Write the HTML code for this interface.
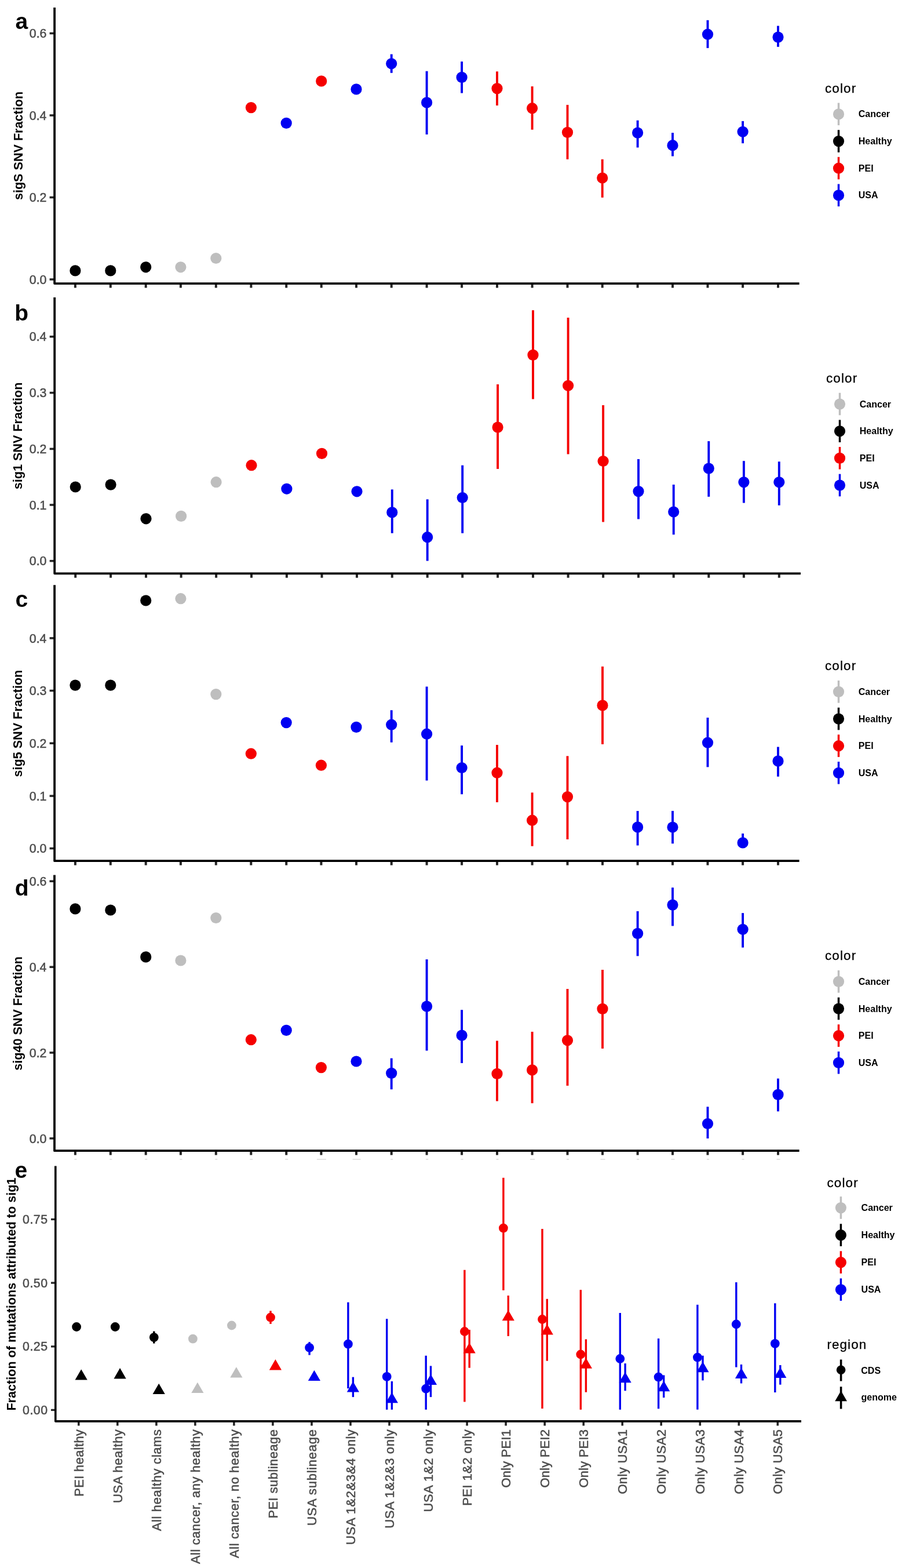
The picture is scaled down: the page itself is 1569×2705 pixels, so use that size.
<!DOCTYPE html>
<html><head><meta charset="utf-8"><title>Figure</title>
<style>
html,body{margin:0;padding:0;background:#fff;}
svg{display:block;}
svg text{font-family:'Liberation Sans', Arial, Helvetica, sans-serif;}
</style></head>
<body>
<svg width="1569" height="2705" viewBox="0 0 1569 2705">
<rect x="0" y="0" width="1569" height="2705" fill="#fff"/>
<g>
<text x="26.6" y="50.4" font-size="39" font-weight="bold" fill="#000">a</text>
<text transform="translate(38.5,251.5) rotate(-90)" x="0" y="0" text-anchor="middle" font-size="21.6" font-weight="bold" fill="#000">sigS SNV Fraction</text>
<line x1="85.6" y1="482.0" x2="94.1" y2="482.0" stroke="#262626" stroke-width="3.6"/>
<text x="80.4" y="489.6" text-anchor="end" font-size="21.3" stroke="#4D4D4D" stroke-width="0.55" fill="#4D4D4D">0.0</text>
<line x1="85.6" y1="340.5" x2="94.1" y2="340.5" stroke="#262626" stroke-width="3.6"/>
<text x="80.4" y="348.1" text-anchor="end" font-size="21.3" stroke="#4D4D4D" stroke-width="0.55" fill="#4D4D4D">0.2</text>
<line x1="85.6" y1="199.0" x2="94.1" y2="199.0" stroke="#262626" stroke-width="3.6"/>
<text x="80.4" y="206.6" text-anchor="end" font-size="21.3" stroke="#4D4D4D" stroke-width="0.55" fill="#4D4D4D">0.4</text>
<line x1="85.6" y1="57.5" x2="94.1" y2="57.5" stroke="#262626" stroke-width="3.6"/>
<text x="80.4" y="65.1" text-anchor="end" font-size="21.3" stroke="#4D4D4D" stroke-width="0.55" fill="#4D4D4D">0.6</text>
<line x1="129.9" y1="489.1" x2="129.9" y2="496.5" stroke="#262626" stroke-width="4"/>
<line x1="190.8" y1="489.1" x2="190.8" y2="496.5" stroke="#262626" stroke-width="4"/>
<line x1="251.7" y1="489.1" x2="251.7" y2="496.5" stroke="#262626" stroke-width="4"/>
<line x1="311.9" y1="489.1" x2="311.9" y2="496.5" stroke="#262626" stroke-width="4"/>
<line x1="372.8" y1="489.1" x2="372.8" y2="496.5" stroke="#262626" stroke-width="4"/>
<line x1="433.4" y1="489.1" x2="433.4" y2="496.5" stroke="#262626" stroke-width="4"/>
<line x1="494.2" y1="489.1" x2="494.2" y2="496.5" stroke="#262626" stroke-width="4"/>
<line x1="554.7" y1="489.1" x2="554.7" y2="496.5" stroke="#262626" stroke-width="4"/>
<line x1="615.0" y1="489.1" x2="615.0" y2="496.5" stroke="#262626" stroke-width="4"/>
<line x1="675.7" y1="489.1" x2="675.7" y2="496.5" stroke="#262626" stroke-width="4"/>
<line x1="736.6" y1="489.1" x2="736.6" y2="496.5" stroke="#262626" stroke-width="4"/>
<line x1="797.1" y1="489.1" x2="797.1" y2="496.5" stroke="#262626" stroke-width="4"/>
<line x1="858.0" y1="489.1" x2="858.0" y2="496.5" stroke="#262626" stroke-width="4"/>
<line x1="918.6" y1="489.1" x2="918.6" y2="496.5" stroke="#262626" stroke-width="4"/>
<line x1="979.5" y1="489.1" x2="979.5" y2="496.5" stroke="#262626" stroke-width="4"/>
<line x1="1039.7" y1="489.1" x2="1039.7" y2="496.5" stroke="#262626" stroke-width="4"/>
<line x1="1100.6" y1="489.1" x2="1100.6" y2="496.5" stroke="#262626" stroke-width="4"/>
<line x1="1161.0" y1="489.1" x2="1161.0" y2="496.5" stroke="#262626" stroke-width="4"/>
<line x1="1221.5" y1="489.1" x2="1221.5" y2="496.5" stroke="#262626" stroke-width="4"/>
<line x1="1282.1" y1="489.1" x2="1282.1" y2="496.5" stroke="#262626" stroke-width="4"/>
<line x1="1343.0" y1="489.1" x2="1343.0" y2="496.5" stroke="#262626" stroke-width="4"/>
<path d="M94.1,13.0 L94.1,489.1 L1379.6,489.1" fill="none" stroke="#000" stroke-width="3.8" stroke-linejoin="round"/>
<circle cx="129.9" cy="466.9" r="9.6" fill="#000000"/>
<circle cx="190.8" cy="466.9" r="9.6" fill="#000000"/>
<circle cx="251.7" cy="460.8" r="9.6" fill="#000000"/>
<circle cx="311.9" cy="460.8" r="9.6" fill="#BEBEBE"/>
<circle cx="372.8" cy="445.5" r="9.6" fill="#BEBEBE"/>
<circle cx="433.4" cy="185.6" r="9.6" fill="#F50000"/>
<circle cx="494.2" cy="212.4" r="9.6" fill="#0000F2"/>
<circle cx="554.7" cy="139.9" r="9.6" fill="#F50000"/>
<circle cx="615.0" cy="153.9" r="9.6" fill="#0000F2"/>
<line x1="675.7" y1="93.5" x2="675.7" y2="125.8" stroke="#0000F2" stroke-width="3.9"/>
<circle cx="675.7" cy="109.8" r="9.6" fill="#0000F2"/>
<line x1="736.6" y1="122.7" x2="736.6" y2="232.0" stroke="#0000F2" stroke-width="3.9"/>
<circle cx="736.6" cy="176.9" r="9.6" fill="#0000F2"/>
<line x1="797.1" y1="106.2" x2="797.1" y2="160.6" stroke="#0000F2" stroke-width="3.9"/>
<circle cx="797.1" cy="133.4" r="9.6" fill="#0000F2"/>
<line x1="858.0" y1="123.3" x2="858.0" y2="182.0" stroke="#F50000" stroke-width="3.9"/>
<circle cx="858.0" cy="152.6" r="9.6" fill="#F50000"/>
<line x1="918.6" y1="149.0" x2="918.6" y2="223.7" stroke="#F50000" stroke-width="3.9"/>
<circle cx="918.6" cy="186.7" r="9.6" fill="#F50000"/>
<line x1="979.5" y1="180.9" x2="979.5" y2="274.8" stroke="#F50000" stroke-width="3.9"/>
<circle cx="979.5" cy="228.4" r="9.6" fill="#F50000"/>
<line x1="1039.7" y1="274.8" x2="1039.7" y2="340.8" stroke="#F50000" stroke-width="3.9"/>
<circle cx="1039.7" cy="307.0" r="9.6" fill="#F50000"/>
<line x1="1100.6" y1="207.7" x2="1100.6" y2="254.5" stroke="#0000F2" stroke-width="3.9"/>
<circle cx="1100.6" cy="229.1" r="9.6" fill="#0000F2"/>
<line x1="1161.0" y1="229.1" x2="1161.0" y2="269.5" stroke="#0000F2" stroke-width="3.9"/>
<circle cx="1161.0" cy="250.7" r="9.6" fill="#0000F2"/>
<line x1="1221.5" y1="34.8" x2="1221.5" y2="82.9" stroke="#0000F2" stroke-width="3.9"/>
<circle cx="1221.5" cy="59.2" r="9.6" fill="#0000F2"/>
<line x1="1282.1" y1="208.9" x2="1282.1" y2="247.2" stroke="#0000F2" stroke-width="3.9"/>
<circle cx="1282.1" cy="227.3" r="9.6" fill="#0000F2"/>
<line x1="1343.0" y1="44.6" x2="1343.0" y2="80.8" stroke="#0000F2" stroke-width="3.9"/>
<circle cx="1343.0" cy="64.1" r="9.6" fill="#0000F2"/>
<text x="1423.9" y="159.6" font-size="22.4" textLength="53.2" stroke="#000" stroke-width="0.3" fill="#000">color</text>
<line x1="1447.5" y1="177.5" x2="1447.5" y2="216.1" stroke="#BEBEBE" stroke-width="3.5"/>
<circle cx="1447.5" cy="196.9" r="9.6" fill="#BEBEBE"/>
<text x="1481.8" y="202.3" font-size="16" font-weight="bold" fill="#000">Cancer</text>
<line x1="1447.5" y1="224.2" x2="1447.5" y2="262.8" stroke="#000000" stroke-width="3.5"/>
<circle cx="1447.5" cy="243.6" r="9.6" fill="#000000"/>
<text x="1481.8" y="249.0" font-size="16" font-weight="bold" fill="#000">Healthy</text>
<line x1="1447.5" y1="270.8" x2="1447.5" y2="309.4" stroke="#F50000" stroke-width="3.5"/>
<circle cx="1447.5" cy="290.2" r="9.6" fill="#F50000"/>
<text x="1481.8" y="295.6" font-size="16" font-weight="bold" fill="#000">PEI</text>
<line x1="1447.5" y1="317.5" x2="1447.5" y2="356.1" stroke="#0000F2" stroke-width="3.5"/>
<circle cx="1447.5" cy="336.9" r="9.6" fill="#0000F2"/>
<text x="1481.8" y="342.3" font-size="16" font-weight="bold" fill="#000">USA</text>
</g>
<g>
<text x="25.3" y="552.9" font-size="39" font-weight="bold" fill="#000">b</text>
<text transform="translate(38.4,751.9) rotate(-90)" x="0" y="0" text-anchor="middle" font-size="21.6" font-weight="bold" fill="#000">sig1 SNV Fraction</text>
<line x1="85.7" y1="967.7" x2="94.2" y2="967.7" stroke="#262626" stroke-width="3.6"/>
<text x="80.4" y="975.3" text-anchor="end" font-size="21.3" stroke="#4D4D4D" stroke-width="0.55" fill="#4D4D4D">0.0</text>
<line x1="85.7" y1="871.0" x2="94.2" y2="871.0" stroke="#262626" stroke-width="3.6"/>
<text x="80.4" y="878.6" text-anchor="end" font-size="21.3" stroke="#4D4D4D" stroke-width="0.55" fill="#4D4D4D">0.1</text>
<line x1="85.7" y1="774.4" x2="94.2" y2="774.4" stroke="#262626" stroke-width="3.6"/>
<text x="80.4" y="782.0" text-anchor="end" font-size="21.3" stroke="#4D4D4D" stroke-width="0.55" fill="#4D4D4D">0.2</text>
<line x1="85.7" y1="677.6" x2="94.2" y2="677.6" stroke="#262626" stroke-width="3.6"/>
<text x="80.4" y="685.2" text-anchor="end" font-size="21.3" stroke="#4D4D4D" stroke-width="0.55" fill="#4D4D4D">0.3</text>
<line x1="85.7" y1="580.8" x2="94.2" y2="580.8" stroke="#262626" stroke-width="3.6"/>
<text x="80.4" y="588.4" text-anchor="end" font-size="21.3" stroke="#4D4D4D" stroke-width="0.55" fill="#4D4D4D">0.4</text>
<line x1="130.2" y1="989.3" x2="130.2" y2="996.7" stroke="#262626" stroke-width="4"/>
<line x1="191.1" y1="989.3" x2="191.1" y2="996.7" stroke="#262626" stroke-width="4"/>
<line x1="252.0" y1="989.3" x2="252.0" y2="996.7" stroke="#262626" stroke-width="4"/>
<line x1="312.6" y1="989.3" x2="312.6" y2="996.7" stroke="#262626" stroke-width="4"/>
<line x1="373.1" y1="989.3" x2="373.1" y2="996.7" stroke="#262626" stroke-width="4"/>
<line x1="434.0" y1="989.3" x2="434.0" y2="996.7" stroke="#262626" stroke-width="4"/>
<line x1="494.9" y1="989.3" x2="494.9" y2="996.7" stroke="#262626" stroke-width="4"/>
<line x1="555.5" y1="989.3" x2="555.5" y2="996.7" stroke="#262626" stroke-width="4"/>
<line x1="616.0" y1="989.3" x2="616.0" y2="996.7" stroke="#262626" stroke-width="4"/>
<line x1="676.8" y1="989.3" x2="676.8" y2="996.7" stroke="#262626" stroke-width="4"/>
<line x1="737.7" y1="989.3" x2="737.7" y2="996.7" stroke="#262626" stroke-width="4"/>
<line x1="798.2" y1="989.3" x2="798.2" y2="996.7" stroke="#262626" stroke-width="4"/>
<line x1="859.1" y1="989.3" x2="859.1" y2="996.7" stroke="#262626" stroke-width="4"/>
<line x1="920.0" y1="989.3" x2="920.0" y2="996.7" stroke="#262626" stroke-width="4"/>
<line x1="980.6" y1="989.3" x2="980.6" y2="996.7" stroke="#262626" stroke-width="4"/>
<line x1="1041.1" y1="989.3" x2="1041.1" y2="996.7" stroke="#262626" stroke-width="4"/>
<line x1="1102.0" y1="989.3" x2="1102.0" y2="996.7" stroke="#262626" stroke-width="4"/>
<line x1="1162.7" y1="989.3" x2="1162.7" y2="996.7" stroke="#262626" stroke-width="4"/>
<line x1="1223.3" y1="989.3" x2="1223.3" y2="996.7" stroke="#262626" stroke-width="4"/>
<line x1="1283.9" y1="989.3" x2="1283.9" y2="996.7" stroke="#262626" stroke-width="4"/>
<line x1="1344.8" y1="989.3" x2="1344.8" y2="996.7" stroke="#262626" stroke-width="4"/>
<path d="M94.2,512.9 L94.2,989.3 L1382.0,989.3" fill="none" stroke="#000" stroke-width="3.8" stroke-linejoin="round"/>
<circle cx="130.2" cy="840.0" r="9.6" fill="#000000"/>
<circle cx="191.1" cy="836.1" r="9.6" fill="#000000"/>
<circle cx="252.0" cy="894.8" r="9.6" fill="#000000"/>
<circle cx="312.6" cy="890.4" r="9.6" fill="#BEBEBE"/>
<circle cx="373.1" cy="831.7" r="9.6" fill="#BEBEBE"/>
<circle cx="434.0" cy="802.7" r="9.6" fill="#F50000"/>
<circle cx="494.9" cy="843.3" r="9.6" fill="#0000F2"/>
<circle cx="555.5" cy="782.4" r="9.6" fill="#F50000"/>
<circle cx="616.0" cy="847.8" r="9.6" fill="#0000F2"/>
<line x1="676.8" y1="844.4" x2="676.8" y2="919.8" stroke="#0000F2" stroke-width="3.9"/>
<circle cx="676.8" cy="883.9" r="9.6" fill="#0000F2"/>
<line x1="737.7" y1="861.4" x2="737.7" y2="967.6" stroke="#0000F2" stroke-width="3.9"/>
<circle cx="737.7" cy="926.7" r="9.6" fill="#0000F2"/>
<line x1="798.2" y1="802.7" x2="798.2" y2="919.8" stroke="#0000F2" stroke-width="3.9"/>
<circle cx="798.2" cy="858.5" r="9.6" fill="#0000F2"/>
<line x1="859.1" y1="663.1" x2="859.1" y2="808.9" stroke="#F50000" stroke-width="3.9"/>
<circle cx="859.1" cy="737.1" r="9.6" fill="#F50000"/>
<line x1="920.0" y1="535.2" x2="920.0" y2="688.5" stroke="#F50000" stroke-width="3.9"/>
<circle cx="920.0" cy="612.4" r="9.6" fill="#F50000"/>
<line x1="980.6" y1="547.9" x2="980.6" y2="783.5" stroke="#F50000" stroke-width="3.9"/>
<circle cx="980.6" cy="665.3" r="9.6" fill="#F50000"/>
<line x1="1041.1" y1="699.0" x2="1041.1" y2="900.6" stroke="#F50000" stroke-width="3.9"/>
<circle cx="1041.1" cy="795.5" r="9.6" fill="#F50000"/>
<line x1="1102.0" y1="792.0" x2="1102.0" y2="895.5" stroke="#0000F2" stroke-width="3.9"/>
<circle cx="1102.0" cy="847.6" r="9.6" fill="#0000F2"/>
<line x1="1162.7" y1="836.0" x2="1162.7" y2="922.3" stroke="#0000F2" stroke-width="3.9"/>
<circle cx="1162.7" cy="883.0" r="9.6" fill="#0000F2"/>
<line x1="1223.3" y1="761.1" x2="1223.3" y2="856.9" stroke="#0000F2" stroke-width="3.9"/>
<circle cx="1223.3" cy="808.1" r="9.6" fill="#0000F2"/>
<line x1="1283.9" y1="795.2" x2="1283.9" y2="867.6" stroke="#0000F2" stroke-width="3.9"/>
<circle cx="1283.9" cy="831.8" r="9.6" fill="#0000F2"/>
<line x1="1344.8" y1="796.3" x2="1344.8" y2="871.8" stroke="#0000F2" stroke-width="3.9"/>
<circle cx="1344.8" cy="831.8" r="9.6" fill="#0000F2"/>
<text x="1425.9" y="659.8" font-size="22.4" textLength="53.2" stroke="#000" stroke-width="0.3" fill="#000">color</text>
<line x1="1449.5" y1="677.7" x2="1449.5" y2="716.3" stroke="#BEBEBE" stroke-width="3.5"/>
<circle cx="1449.5" cy="697.1" r="9.6" fill="#BEBEBE"/>
<text x="1483.8" y="702.5" font-size="16" font-weight="bold" fill="#000">Cancer</text>
<line x1="1449.5" y1="724.4" x2="1449.5" y2="763.0" stroke="#000000" stroke-width="3.5"/>
<circle cx="1449.5" cy="743.8" r="9.6" fill="#000000"/>
<text x="1483.8" y="749.2" font-size="16" font-weight="bold" fill="#000">Healthy</text>
<line x1="1449.5" y1="771.0" x2="1449.5" y2="809.6" stroke="#F50000" stroke-width="3.5"/>
<circle cx="1449.5" cy="790.4" r="9.6" fill="#F50000"/>
<text x="1483.8" y="795.8" font-size="16" font-weight="bold" fill="#000">PEI</text>
<line x1="1449.5" y1="817.7" x2="1449.5" y2="856.3" stroke="#0000F2" stroke-width="3.5"/>
<circle cx="1449.5" cy="837.1" r="9.6" fill="#0000F2"/>
<text x="1483.8" y="842.5" font-size="16" font-weight="bold" fill="#000">USA</text>
</g>
<g>
<text x="26.4" y="1046.9" font-size="39" font-weight="bold" fill="#000">c</text>
<text transform="translate(38.4,1248.1) rotate(-90)" x="0" y="0" text-anchor="middle" font-size="21.6" font-weight="bold" fill="#000">sig5 SNV Fraction</text>
<line x1="85.6" y1="1463.6" x2="94.1" y2="1463.6" stroke="#262626" stroke-width="3.6"/>
<text x="80.4" y="1471.2" text-anchor="end" font-size="21.3" stroke="#4D4D4D" stroke-width="0.55" fill="#4D4D4D">0.0</text>
<line x1="85.6" y1="1373.1" x2="94.1" y2="1373.1" stroke="#262626" stroke-width="3.6"/>
<text x="80.4" y="1380.7" text-anchor="end" font-size="21.3" stroke="#4D4D4D" stroke-width="0.55" fill="#4D4D4D">0.1</text>
<line x1="85.6" y1="1282.2" x2="94.1" y2="1282.2" stroke="#262626" stroke-width="3.6"/>
<text x="80.4" y="1289.8" text-anchor="end" font-size="21.3" stroke="#4D4D4D" stroke-width="0.55" fill="#4D4D4D">0.2</text>
<line x1="85.6" y1="1191.5" x2="94.1" y2="1191.5" stroke="#262626" stroke-width="3.6"/>
<text x="80.4" y="1199.1" text-anchor="end" font-size="21.3" stroke="#4D4D4D" stroke-width="0.55" fill="#4D4D4D">0.3</text>
<line x1="85.6" y1="1100.9" x2="94.1" y2="1100.9" stroke="#262626" stroke-width="3.6"/>
<text x="80.4" y="1108.5" text-anchor="end" font-size="21.3" stroke="#4D4D4D" stroke-width="0.55" fill="#4D4D4D">0.4</text>
<line x1="129.9" y1="1485.2" x2="129.9" y2="1492.6" stroke="#262626" stroke-width="4"/>
<line x1="190.8" y1="1485.2" x2="190.8" y2="1492.6" stroke="#262626" stroke-width="4"/>
<line x1="251.7" y1="1485.2" x2="251.7" y2="1492.6" stroke="#262626" stroke-width="4"/>
<line x1="311.9" y1="1485.2" x2="311.9" y2="1492.6" stroke="#262626" stroke-width="4"/>
<line x1="372.8" y1="1485.2" x2="372.8" y2="1492.6" stroke="#262626" stroke-width="4"/>
<line x1="433.3" y1="1485.2" x2="433.3" y2="1492.6" stroke="#262626" stroke-width="4"/>
<line x1="494.2" y1="1485.2" x2="494.2" y2="1492.6" stroke="#262626" stroke-width="4"/>
<line x1="554.4" y1="1485.2" x2="554.4" y2="1492.6" stroke="#262626" stroke-width="4"/>
<line x1="615.0" y1="1485.2" x2="615.0" y2="1492.6" stroke="#262626" stroke-width="4"/>
<line x1="675.7" y1="1485.2" x2="675.7" y2="1492.6" stroke="#262626" stroke-width="4"/>
<line x1="736.6" y1="1485.2" x2="736.6" y2="1492.6" stroke="#262626" stroke-width="4"/>
<line x1="797.1" y1="1485.2" x2="797.1" y2="1492.6" stroke="#262626" stroke-width="4"/>
<line x1="858.0" y1="1485.2" x2="858.0" y2="1492.6" stroke="#262626" stroke-width="4"/>
<line x1="918.6" y1="1485.2" x2="918.6" y2="1492.6" stroke="#262626" stroke-width="4"/>
<line x1="979.5" y1="1485.2" x2="979.5" y2="1492.6" stroke="#262626" stroke-width="4"/>
<line x1="1040.0" y1="1485.2" x2="1040.0" y2="1492.6" stroke="#262626" stroke-width="4"/>
<line x1="1100.6" y1="1485.2" x2="1100.6" y2="1492.6" stroke="#262626" stroke-width="4"/>
<line x1="1161.0" y1="1485.2" x2="1161.0" y2="1492.6" stroke="#262626" stroke-width="4"/>
<line x1="1221.5" y1="1485.2" x2="1221.5" y2="1492.6" stroke="#262626" stroke-width="4"/>
<line x1="1282.1" y1="1485.2" x2="1282.1" y2="1492.6" stroke="#262626" stroke-width="4"/>
<line x1="1343.0" y1="1485.2" x2="1343.0" y2="1492.6" stroke="#262626" stroke-width="4"/>
<path d="M94.1,1009.3 L94.1,1485.2 L1379.6,1485.2" fill="none" stroke="#000" stroke-width="3.8" stroke-linejoin="round"/>
<circle cx="129.9" cy="1182.1" r="9.6" fill="#000000"/>
<circle cx="190.8" cy="1182.1" r="9.6" fill="#000000"/>
<circle cx="251.7" cy="1036.0" r="9.6" fill="#000000"/>
<circle cx="311.9" cy="1032.7" r="9.6" fill="#BEBEBE"/>
<circle cx="372.8" cy="1197.6" r="9.6" fill="#BEBEBE"/>
<circle cx="433.3" cy="1300.2" r="9.6" fill="#F50000"/>
<circle cx="494.2" cy="1246.6" r="9.6" fill="#0000F2"/>
<circle cx="554.4" cy="1320.2" r="9.6" fill="#F50000"/>
<circle cx="615.0" cy="1254.4" r="9.6" fill="#0000F2"/>
<line x1="675.7" y1="1225.2" x2="675.7" y2="1280.7" stroke="#0000F2" stroke-width="3.9"/>
<circle cx="675.7" cy="1250.2" r="9.6" fill="#0000F2"/>
<line x1="736.6" y1="1184.6" x2="736.6" y2="1346.6" stroke="#0000F2" stroke-width="3.9"/>
<circle cx="736.6" cy="1266.2" r="9.6" fill="#0000F2"/>
<line x1="797.1" y1="1286.1" x2="797.1" y2="1370.2" stroke="#0000F2" stroke-width="3.9"/>
<circle cx="797.1" cy="1324.5" r="9.6" fill="#0000F2"/>
<line x1="858.0" y1="1285.0" x2="858.0" y2="1384.0" stroke="#F50000" stroke-width="3.9"/>
<circle cx="858.0" cy="1333.2" r="9.6" fill="#F50000"/>
<line x1="918.6" y1="1367.3" x2="918.6" y2="1459.7" stroke="#F50000" stroke-width="3.9"/>
<circle cx="918.6" cy="1415.2" r="9.6" fill="#F50000"/>
<line x1="979.5" y1="1304.2" x2="979.5" y2="1448.1" stroke="#F50000" stroke-width="3.9"/>
<circle cx="979.5" cy="1374.6" r="9.6" fill="#F50000"/>
<line x1="1040.0" y1="1149.8" x2="1040.0" y2="1283.9" stroke="#F50000" stroke-width="3.9"/>
<circle cx="1040.0" cy="1216.9" r="9.6" fill="#F50000"/>
<line x1="1100.6" y1="1399.0" x2="1100.6" y2="1458.5" stroke="#0000F2" stroke-width="3.9"/>
<circle cx="1100.6" cy="1426.9" r="9.6" fill="#0000F2"/>
<line x1="1161.0" y1="1398.9" x2="1161.0" y2="1455.3" stroke="#0000F2" stroke-width="3.9"/>
<circle cx="1161.0" cy="1427.0" r="9.6" fill="#0000F2"/>
<line x1="1221.5" y1="1238.0" x2="1221.5" y2="1323.3" stroke="#0000F2" stroke-width="3.9"/>
<circle cx="1221.5" cy="1281.2" r="9.6" fill="#0000F2"/>
<line x1="1282.1" y1="1437.9" x2="1282.1" y2="1460.0" stroke="#0000F2" stroke-width="3.9"/>
<circle cx="1282.1" cy="1453.9" r="9.6" fill="#0000F2"/>
<line x1="1343.0" y1="1288.5" x2="1343.0" y2="1339.7" stroke="#0000F2" stroke-width="3.9"/>
<circle cx="1343.0" cy="1312.9" r="9.6" fill="#0000F2"/>
<text x="1423.9" y="1156.1" font-size="22.4" textLength="53.2" stroke="#000" stroke-width="0.3" fill="#000">color</text>
<line x1="1447.5" y1="1174.0" x2="1447.5" y2="1212.6" stroke="#BEBEBE" stroke-width="3.5"/>
<circle cx="1447.5" cy="1193.4" r="9.6" fill="#BEBEBE"/>
<text x="1481.8" y="1198.8" font-size="16" font-weight="bold" fill="#000">Cancer</text>
<line x1="1447.5" y1="1220.7" x2="1447.5" y2="1259.3" stroke="#000000" stroke-width="3.5"/>
<circle cx="1447.5" cy="1240.1" r="9.6" fill="#000000"/>
<text x="1481.8" y="1245.5" font-size="16" font-weight="bold" fill="#000">Healthy</text>
<line x1="1447.5" y1="1267.3" x2="1447.5" y2="1305.9" stroke="#F50000" stroke-width="3.5"/>
<circle cx="1447.5" cy="1286.7" r="9.6" fill="#F50000"/>
<text x="1481.8" y="1292.1" font-size="16" font-weight="bold" fill="#000">PEI</text>
<line x1="1447.5" y1="1314.0" x2="1447.5" y2="1352.6" stroke="#0000F2" stroke-width="3.5"/>
<circle cx="1447.5" cy="1333.4" r="9.6" fill="#0000F2"/>
<text x="1481.8" y="1338.8" font-size="16" font-weight="bold" fill="#000">USA</text>
</g>
<g>
<text x="25.8" y="1545.2" font-size="39" font-weight="bold" fill="#000">d</text>
<text transform="translate(38.4,1748.4) rotate(-90)" x="0" y="0" text-anchor="middle" font-size="21.6" font-weight="bold" fill="#000">sig40 SNV Fraction</text>
<line x1="85.5" y1="1963.9" x2="94.0" y2="1963.9" stroke="#262626" stroke-width="3.6"/>
<text x="80.4" y="1971.5" text-anchor="end" font-size="21.3" stroke="#4D4D4D" stroke-width="0.55" fill="#4D4D4D">0.0</text>
<line x1="85.5" y1="1816.0" x2="94.0" y2="1816.0" stroke="#262626" stroke-width="3.6"/>
<text x="80.4" y="1823.6" text-anchor="end" font-size="21.3" stroke="#4D4D4D" stroke-width="0.55" fill="#4D4D4D">0.2</text>
<line x1="85.5" y1="1668.2" x2="94.0" y2="1668.2" stroke="#262626" stroke-width="3.6"/>
<text x="80.4" y="1675.8" text-anchor="end" font-size="21.3" stroke="#4D4D4D" stroke-width="0.55" fill="#4D4D4D">0.4</text>
<line x1="85.5" y1="1520.2" x2="94.0" y2="1520.2" stroke="#262626" stroke-width="3.6"/>
<text x="80.4" y="1527.8" text-anchor="end" font-size="21.3" stroke="#4D4D4D" stroke-width="0.55" fill="#4D4D4D">0.6</text>
<line x1="129.9" y1="1985.2" x2="129.9" y2="1992.6" stroke="#262626" stroke-width="4"/>
<line x1="190.8" y1="1985.2" x2="190.8" y2="1992.6" stroke="#262626" stroke-width="4"/>
<line x1="251.7" y1="1985.2" x2="251.7" y2="1992.6" stroke="#262626" stroke-width="4"/>
<line x1="311.9" y1="1985.2" x2="311.9" y2="1992.6" stroke="#262626" stroke-width="4"/>
<line x1="372.8" y1="1985.2" x2="372.8" y2="1992.6" stroke="#262626" stroke-width="4"/>
<line x1="433.3" y1="1985.2" x2="433.3" y2="1992.6" stroke="#262626" stroke-width="4"/>
<line x1="494.2" y1="1985.2" x2="494.2" y2="1992.6" stroke="#262626" stroke-width="4"/>
<line x1="554.4" y1="1985.2" x2="554.4" y2="1992.6" stroke="#262626" stroke-width="4"/>
<line x1="615.0" y1="1985.2" x2="615.0" y2="1992.6" stroke="#262626" stroke-width="4"/>
<line x1="675.7" y1="1985.2" x2="675.7" y2="1992.6" stroke="#262626" stroke-width="4"/>
<line x1="736.6" y1="1985.2" x2="736.6" y2="1992.6" stroke="#262626" stroke-width="4"/>
<line x1="797.1" y1="1985.2" x2="797.1" y2="1992.6" stroke="#262626" stroke-width="4"/>
<line x1="858.0" y1="1985.2" x2="858.0" y2="1992.6" stroke="#262626" stroke-width="4"/>
<line x1="918.6" y1="1985.2" x2="918.6" y2="1992.6" stroke="#262626" stroke-width="4"/>
<line x1="979.5" y1="1985.2" x2="979.5" y2="1992.6" stroke="#262626" stroke-width="4"/>
<line x1="1040.0" y1="1985.2" x2="1040.0" y2="1992.6" stroke="#262626" stroke-width="4"/>
<line x1="1100.6" y1="1985.2" x2="1100.6" y2="1992.6" stroke="#262626" stroke-width="4"/>
<line x1="1161.0" y1="1985.2" x2="1161.0" y2="1992.6" stroke="#262626" stroke-width="4"/>
<line x1="1221.5" y1="1985.2" x2="1221.5" y2="1992.6" stroke="#262626" stroke-width="4"/>
<line x1="1282.1" y1="1985.2" x2="1282.1" y2="1992.6" stroke="#262626" stroke-width="4"/>
<line x1="1343.0" y1="1985.2" x2="1343.0" y2="1992.6" stroke="#262626" stroke-width="4"/>
<path d="M94.0,1509.5 L94.0,1985.2 L1379.6,1985.2" fill="none" stroke="#000" stroke-width="3.8" stroke-linejoin="round"/>
<circle cx="129.9" cy="1567.9" r="9.6" fill="#000000"/>
<circle cx="190.8" cy="1570.0" r="9.6" fill="#000000"/>
<circle cx="251.7" cy="1650.9" r="9.6" fill="#000000"/>
<circle cx="311.9" cy="1657.0" r="9.6" fill="#BEBEBE"/>
<circle cx="372.8" cy="1583.5" r="9.6" fill="#BEBEBE"/>
<circle cx="433.3" cy="1793.7" r="9.6" fill="#F50000"/>
<circle cx="494.2" cy="1777.4" r="9.6" fill="#0000F2"/>
<circle cx="554.4" cy="1841.6" r="9.6" fill="#F50000"/>
<circle cx="615.0" cy="1831.0" r="9.6" fill="#0000F2"/>
<line x1="675.7" y1="1825.6" x2="675.7" y2="1879.3" stroke="#0000F2" stroke-width="3.9"/>
<circle cx="675.7" cy="1851.4" r="9.6" fill="#0000F2"/>
<line x1="736.6" y1="1654.9" x2="736.6" y2="1812.6" stroke="#0000F2" stroke-width="3.9"/>
<circle cx="736.6" cy="1736.1" r="9.6" fill="#0000F2"/>
<line x1="797.1" y1="1742.2" x2="797.1" y2="1834.0" stroke="#0000F2" stroke-width="3.9"/>
<circle cx="797.1" cy="1786.1" r="9.6" fill="#0000F2"/>
<line x1="858.0" y1="1795.5" x2="858.0" y2="1899.6" stroke="#F50000" stroke-width="3.9"/>
<circle cx="858.0" cy="1852.4" r="9.6" fill="#F50000"/>
<line x1="918.6" y1="1779.9" x2="918.6" y2="1903.2" stroke="#F50000" stroke-width="3.9"/>
<circle cx="918.6" cy="1845.9" r="9.6" fill="#F50000"/>
<line x1="979.5" y1="1706.0" x2="979.5" y2="1873.1" stroke="#F50000" stroke-width="3.9"/>
<circle cx="979.5" cy="1794.8" r="9.6" fill="#F50000"/>
<line x1="1040.0" y1="1673.0" x2="1040.0" y2="1808.9" stroke="#F50000" stroke-width="3.9"/>
<circle cx="1040.0" cy="1740.4" r="9.6" fill="#F50000"/>
<line x1="1100.6" y1="1571.9" x2="1100.6" y2="1649.3" stroke="#0000F2" stroke-width="3.9"/>
<circle cx="1100.6" cy="1610.4" r="9.6" fill="#0000F2"/>
<line x1="1161.0" y1="1531.2" x2="1161.0" y2="1597.4" stroke="#0000F2" stroke-width="3.9"/>
<circle cx="1161.0" cy="1561.1" r="9.6" fill="#0000F2"/>
<line x1="1221.5" y1="1909.3" x2="1221.5" y2="1964.0" stroke="#0000F2" stroke-width="3.9"/>
<circle cx="1221.5" cy="1938.5" r="9.6" fill="#0000F2"/>
<line x1="1282.1" y1="1575.1" x2="1282.1" y2="1634.6" stroke="#0000F2" stroke-width="3.9"/>
<circle cx="1282.1" cy="1603.3" r="9.6" fill="#0000F2"/>
<line x1="1343.0" y1="1860.6" x2="1343.0" y2="1917.3" stroke="#0000F2" stroke-width="3.9"/>
<circle cx="1343.0" cy="1888.4" r="9.6" fill="#0000F2"/>
<text x="1423.9" y="1656.1" font-size="22.4" textLength="53.2" stroke="#000" stroke-width="0.3" fill="#000">color</text>
<line x1="1447.5" y1="1674.0" x2="1447.5" y2="1712.6" stroke="#BEBEBE" stroke-width="3.5"/>
<circle cx="1447.5" cy="1693.4" r="9.6" fill="#BEBEBE"/>
<text x="1481.8" y="1698.8" font-size="16" font-weight="bold" fill="#000">Cancer</text>
<line x1="1447.5" y1="1720.7" x2="1447.5" y2="1759.3" stroke="#000000" stroke-width="3.5"/>
<circle cx="1447.5" cy="1740.1" r="9.6" fill="#000000"/>
<text x="1481.8" y="1745.5" font-size="16" font-weight="bold" fill="#000">Healthy</text>
<line x1="1447.5" y1="1767.3" x2="1447.5" y2="1805.9" stroke="#F50000" stroke-width="3.5"/>
<circle cx="1447.5" cy="1786.7" r="9.6" fill="#F50000"/>
<text x="1481.8" y="1792.1" font-size="16" font-weight="bold" fill="#000">PEI</text>
<line x1="1447.5" y1="1814.0" x2="1447.5" y2="1852.6" stroke="#0000F2" stroke-width="3.5"/>
<circle cx="1447.5" cy="1833.4" r="9.6" fill="#0000F2"/>
<text x="1481.8" y="1838.8" font-size="16" font-weight="bold" fill="#000">USA</text>
</g>
<rect x="128.4" y="1999.2" width="4" height="1.6" fill="#C8C8C8" opacity="0.6"/>
<rect x="189.3" y="1999.2" width="4" height="1.6" fill="#C8C8C8" opacity="0.6"/>
<rect x="250.2" y="1999.2" width="4" height="1.6" fill="#C8C8C8" opacity="0.6"/>
<rect x="310.4" y="1999.2" width="4" height="1.6" fill="#C8C8C8" opacity="0.6"/>
<rect x="371.3" y="1999.2" width="4" height="1.6" fill="#C8C8C8" opacity="0.6"/>
<rect x="431.3" y="1999.2" width="5" height="1.6" fill="#C8C8C8" opacity="0.6"/>
<rect x="492.2" y="1999.2" width="5" height="1.6" fill="#C8C8C8" opacity="0.6"/>
<rect x="546.9" y="1999.2" width="16" height="1.6" fill="#C8C8C8" opacity="0.6"/>
<rect x="608.5" y="1999.2" width="14" height="1.6" fill="#C8C8C8" opacity="0.6"/>
<rect x="674.2" y="1999.2" width="4" height="1.6" fill="#C8C8C8" opacity="0.6"/>
<rect x="735.1" y="1999.2" width="4" height="1.6" fill="#C8C8C8" opacity="0.6"/>
<rect x="795.6" y="1999.2" width="4" height="1.6" fill="#C8C8C8" opacity="0.6"/>
<rect x="856.5" y="1999.2" width="4" height="1.6" fill="#C8C8C8" opacity="0.6"/>
<rect x="915.1" y="1999.2" width="8" height="1.6" fill="#C8C8C8" opacity="0.6"/>
<rect x="978.0" y="1999.2" width="4" height="1.6" fill="#C8C8C8" opacity="0.6"/>
<rect x="1036.5" y="1999.2" width="8" height="1.6" fill="#C8C8C8" opacity="0.6"/>
<rect x="1099.1" y="1999.2" width="4" height="1.6" fill="#C8C8C8" opacity="0.6"/>
<rect x="1158.5" y="1999.2" width="6" height="1.6" fill="#C8C8C8" opacity="0.6"/>
<rect x="1220.0" y="1999.2" width="4" height="1.6" fill="#C8C8C8" opacity="0.6"/>
<rect x="1280.6" y="1999.2" width="4" height="1.6" fill="#C8C8C8" opacity="0.6"/>
<rect x="1340.5" y="1999.2" width="6" height="1.6" fill="#C8C8C8" opacity="0.6"/>
<g>
<text x="25.6" y="2031.7" font-size="39" font-weight="bold" fill="#000">e</text>
<text transform="translate(26.8,2232.6) rotate(-90)" x="0" y="0" text-anchor="middle" font-size="21.6" font-weight="bold" fill="#000">Fraction of mutations attributed to sig1</text>
<line x1="88.0" y1="2432.4" x2="95.8" y2="2432.4" stroke="#262626" stroke-width="3.3"/>
<text x="82.0" y="2439.9" text-anchor="end" font-size="21.3" textLength="42.9" stroke="#4D4D4D" stroke-width="0.55" fill="#4D4D4D">0.00</text>
<line x1="88.0" y1="2322.9" x2="95.8" y2="2322.9" stroke="#262626" stroke-width="3.3"/>
<text x="82.0" y="2330.4" text-anchor="end" font-size="21.3" textLength="42.9" stroke="#4D4D4D" stroke-width="0.55" fill="#4D4D4D">0.25</text>
<line x1="88.0" y1="2213.1" x2="95.8" y2="2213.1" stroke="#262626" stroke-width="3.3"/>
<text x="82.0" y="2220.6" text-anchor="end" font-size="21.3" textLength="42.9" stroke="#4D4D4D" stroke-width="0.55" fill="#4D4D4D">0.50</text>
<line x1="88.0" y1="2103.5" x2="95.8" y2="2103.5" stroke="#262626" stroke-width="3.3"/>
<text x="82.0" y="2111.0" text-anchor="end" font-size="21.3" textLength="42.9" stroke="#4D4D4D" stroke-width="0.55" fill="#4D4D4D">0.75</text>
<line x1="135.8" y1="2451.9" x2="135.8" y2="2459.5" stroke="#262626" stroke-width="3.6"/>
<text transform="translate(143.7,2466.0) rotate(-90)" x="0" y="0" text-anchor="end" font-size="22" textLength="115.8" stroke="#4D4D4D" stroke-width="0.55" fill="#4D4D4D">PEI healthy</text>
<line x1="202.8" y1="2451.9" x2="202.8" y2="2459.5" stroke="#262626" stroke-width="3.6"/>
<text transform="translate(210.7,2466.0) rotate(-90)" x="0" y="0" text-anchor="end" font-size="22" textLength="127.1" stroke="#4D4D4D" stroke-width="0.55" fill="#4D4D4D">USA healthy</text>
<line x1="269.9" y1="2451.9" x2="269.9" y2="2459.5" stroke="#262626" stroke-width="3.6"/>
<text transform="translate(277.8,2466.0) rotate(-90)" x="0" y="0" text-anchor="end" font-size="22" textLength="175.3" stroke="#4D4D4D" stroke-width="0.55" fill="#4D4D4D">All healthy clams</text>
<line x1="336.9" y1="2451.9" x2="336.9" y2="2459.5" stroke="#262626" stroke-width="3.6"/>
<text transform="translate(344.8,2466.0) rotate(-90)" x="0" y="0" text-anchor="end" font-size="22" textLength="232.1" stroke="#4D4D4D" stroke-width="0.55" fill="#4D4D4D">All cancer, any healthy</text>
<line x1="403.9" y1="2451.9" x2="403.9" y2="2459.5" stroke="#262626" stroke-width="3.6"/>
<text transform="translate(411.8,2466.0) rotate(-90)" x="0" y="0" text-anchor="end" font-size="22" textLength="222.0" stroke="#4D4D4D" stroke-width="0.55" fill="#4D4D4D">All cancer, no healthy</text>
<line x1="470.9" y1="2451.9" x2="470.9" y2="2459.5" stroke="#262626" stroke-width="3.6"/>
<text transform="translate(478.8,2466.0) rotate(-90)" x="0" y="0" text-anchor="end" font-size="22" textLength="153.6" stroke="#4D4D4D" stroke-width="0.55" fill="#4D4D4D">PEI sublineage</text>
<line x1="538.0" y1="2451.9" x2="538.0" y2="2459.5" stroke="#262626" stroke-width="3.6"/>
<text transform="translate(545.9,2466.0) rotate(-90)" x="0" y="0" text-anchor="end" font-size="22" textLength="166.1" stroke="#4D4D4D" stroke-width="0.55" fill="#4D4D4D">USA sublineage</text>
<line x1="605.0" y1="2451.9" x2="605.0" y2="2459.5" stroke="#262626" stroke-width="3.6"/>
<text transform="translate(612.9,2466.0) rotate(-90)" x="0" y="0" text-anchor="end" font-size="22" textLength="198.9" stroke="#4D4D4D" stroke-width="0.55" fill="#4D4D4D">USA 1&amp;2&amp;3&amp;4 only</text>
<line x1="672.0" y1="2451.9" x2="672.0" y2="2459.5" stroke="#262626" stroke-width="3.6"/>
<text transform="translate(679.9,2466.0) rotate(-90)" x="0" y="0" text-anchor="end" font-size="22" textLength="170.8" stroke="#4D4D4D" stroke-width="0.55" fill="#4D4D4D">USA 1&amp;2&amp;3 only</text>
<line x1="739.1" y1="2451.9" x2="739.1" y2="2459.5" stroke="#262626" stroke-width="3.6"/>
<text transform="translate(747.0,2466.0) rotate(-90)" x="0" y="0" text-anchor="end" font-size="22" textLength="142.5" stroke="#4D4D4D" stroke-width="0.55" fill="#4D4D4D">USA 1&amp;2 only</text>
<line x1="806.1" y1="2451.9" x2="806.1" y2="2459.5" stroke="#262626" stroke-width="3.6"/>
<text transform="translate(814.0,2466.0) rotate(-90)" x="0" y="0" text-anchor="end" font-size="22" textLength="131.8" stroke="#4D4D4D" stroke-width="0.55" fill="#4D4D4D">PEI 1&amp;2 only</text>
<line x1="873.1" y1="2451.9" x2="873.1" y2="2459.5" stroke="#262626" stroke-width="3.6"/>
<text transform="translate(881.0,2466.0) rotate(-90)" x="0" y="0" text-anchor="end" font-size="22" textLength="100.6" stroke="#4D4D4D" stroke-width="0.55" fill="#4D4D4D">Only PEI1</text>
<line x1="940.2" y1="2451.9" x2="940.2" y2="2459.5" stroke="#262626" stroke-width="3.6"/>
<text transform="translate(948.1,2466.0) rotate(-90)" x="0" y="0" text-anchor="end" font-size="22" textLength="100.6" stroke="#4D4D4D" stroke-width="0.55" fill="#4D4D4D">Only PEI2</text>
<line x1="1007.2" y1="2451.9" x2="1007.2" y2="2459.5" stroke="#262626" stroke-width="3.6"/>
<text transform="translate(1015.1,2466.0) rotate(-90)" x="0" y="0" text-anchor="end" font-size="22" textLength="100.6" stroke="#4D4D4D" stroke-width="0.55" fill="#4D4D4D">Only PEI3</text>
<line x1="1074.2" y1="2451.9" x2="1074.2" y2="2459.5" stroke="#262626" stroke-width="3.6"/>
<text transform="translate(1082.1,2466.0) rotate(-90)" x="0" y="0" text-anchor="end" font-size="22" textLength="111.6" stroke="#4D4D4D" stroke-width="0.55" fill="#4D4D4D">Only USA1</text>
<line x1="1141.2" y1="2451.9" x2="1141.2" y2="2459.5" stroke="#262626" stroke-width="3.6"/>
<text transform="translate(1149.2,2466.0) rotate(-90)" x="0" y="0" text-anchor="end" font-size="22" textLength="111.6" stroke="#4D4D4D" stroke-width="0.55" fill="#4D4D4D">Only USA2</text>
<line x1="1208.3" y1="2451.9" x2="1208.3" y2="2459.5" stroke="#262626" stroke-width="3.6"/>
<text transform="translate(1216.2,2466.0) rotate(-90)" x="0" y="0" text-anchor="end" font-size="22" textLength="111.6" stroke="#4D4D4D" stroke-width="0.55" fill="#4D4D4D">Only USA3</text>
<line x1="1275.3" y1="2451.9" x2="1275.3" y2="2459.5" stroke="#262626" stroke-width="3.6"/>
<text transform="translate(1283.2,2466.0) rotate(-90)" x="0" y="0" text-anchor="end" font-size="22" textLength="111.6" stroke="#4D4D4D" stroke-width="0.55" fill="#4D4D4D">Only USA4</text>
<line x1="1342.3" y1="2451.9" x2="1342.3" y2="2459.5" stroke="#262626" stroke-width="3.6"/>
<text transform="translate(1350.2,2466.0) rotate(-90)" x="0" y="0" text-anchor="end" font-size="22" textLength="111.6" stroke="#4D4D4D" stroke-width="0.55" fill="#4D4D4D">Only USA5</text>
<path d="M95.8,2011.4 L95.8,2451.9 L1383.0,2451.9" fill="none" stroke="#000" stroke-width="3.6" stroke-linejoin="round"/>
<circle cx="132.1" cy="2289.0" r="7.9" fill="#000000"/>
<circle cx="198.8" cy="2289.0" r="7.9" fill="#000000"/>
<line x1="265.8" y1="2296.6" x2="265.8" y2="2317.6" stroke="#000000" stroke-width="3.4"/>
<circle cx="265.8" cy="2307.1" r="7.9" fill="#000000"/>
<circle cx="332.9" cy="2309.7" r="7.9" fill="#BEBEBE"/>
<circle cx="399.9" cy="2286.5" r="7.9" fill="#BEBEBE"/>
<line x1="467.0" y1="2261.4" x2="467.0" y2="2283.9" stroke="#F50000" stroke-width="3.4"/>
<circle cx="467.0" cy="2272.7" r="7.9" fill="#F50000"/>
<line x1="534.1" y1="2315.1" x2="534.1" y2="2337.6" stroke="#0000F2" stroke-width="3.4"/>
<circle cx="534.1" cy="2324.9" r="7.9" fill="#0000F2"/>
<line x1="600.9" y1="2246.6" x2="600.9" y2="2395.2" stroke="#0000F2" stroke-width="3.4"/>
<circle cx="600.9" cy="2318.7" r="7.9" fill="#0000F2"/>
<line x1="667.7" y1="2275.2" x2="667.7" y2="2431.8" stroke="#0000F2" stroke-width="3.4"/>
<circle cx="667.7" cy="2374.9" r="7.9" fill="#0000F2"/>
<line x1="735.2" y1="2338.7" x2="735.2" y2="2431.8" stroke="#0000F2" stroke-width="3.4"/>
<circle cx="735.2" cy="2395.6" r="7.9" fill="#0000F2"/>
<line x1="801.9" y1="2190.8" x2="801.9" y2="2418.4" stroke="#F50000" stroke-width="3.4"/>
<circle cx="801.9" cy="2297.0" r="7.9" fill="#F50000"/>
<line x1="868.9" y1="2031.8" x2="868.9" y2="2225.9" stroke="#F50000" stroke-width="3.4"/>
<circle cx="868.9" cy="2118.6" r="7.9" fill="#F50000"/>
<line x1="936.0" y1="2120.1" x2="936.0" y2="2430.0" stroke="#F50000" stroke-width="3.4"/>
<circle cx="936.0" cy="2276.0" r="7.9" fill="#F50000"/>
<line x1="1002.3" y1="2225.2" x2="1002.3" y2="2431.8" stroke="#F50000" stroke-width="3.4"/>
<circle cx="1002.3" cy="2336.5" r="7.9" fill="#F50000"/>
<line x1="1070.3" y1="2265.0" x2="1070.3" y2="2431.8" stroke="#0000F2" stroke-width="3.4"/>
<circle cx="1070.3" cy="2344.0" r="7.9" fill="#0000F2"/>
<line x1="1136.6" y1="2309.1" x2="1136.6" y2="2430.3" stroke="#0000F2" stroke-width="3.4"/>
<circle cx="1136.6" cy="2375.6" r="7.9" fill="#0000F2"/>
<line x1="1203.9" y1="2250.8" x2="1203.9" y2="2431.7" stroke="#0000F2" stroke-width="3.4"/>
<circle cx="1203.9" cy="2341.6" r="7.9" fill="#0000F2"/>
<line x1="1270.8" y1="2212.1" x2="1270.8" y2="2358.6" stroke="#0000F2" stroke-width="3.4"/>
<circle cx="1270.8" cy="2284.5" r="7.9" fill="#0000F2"/>
<line x1="1337.8" y1="2248.3" x2="1337.8" y2="2402.1" stroke="#0000F2" stroke-width="3.4"/>
<circle cx="1337.8" cy="2317.8" r="7.9" fill="#0000F2"/>
<path d="M140.2,2362.2 L150.8,2380.5 L129.6,2380.5 Z" fill="#000000"/>
<path d="M207.1,2360.1 L217.7,2378.4 L196.5,2378.4 Z" fill="#000000"/>
<path d="M274.2,2386.7 L284.8,2405.0 L263.6,2405.0 Z" fill="#000000"/>
<path d="M340.9,2384.8 L351.5,2403.0 L330.3,2403.0 Z" fill="#BEBEBE"/>
<path d="M407.9,2358.3 L418.5,2376.6 L397.3,2376.6 Z" fill="#BEBEBE"/>
<path d="M475.4,2345.1 L486.0,2363.4 L464.8,2363.4 Z" fill="#F50000"/>
<path d="M542.4,2363.7 L553.0,2382.0 L531.8,2382.0 Z" fill="#0000F2"/>
<line x1="609.4" y1="2375.6" x2="609.4" y2="2410.1" stroke="#0000F2" stroke-width="3.4"/>
<path d="M609.4,2383.2 L620.0,2401.4 L598.8,2401.4 Z" fill="#0000F2"/>
<line x1="676.4" y1="2382.9" x2="676.4" y2="2431.8" stroke="#0000F2" stroke-width="3.4"/>
<path d="M676.4,2402.0 L687.0,2420.2 L665.8,2420.2 Z" fill="#0000F2"/>
<line x1="743.5" y1="2356.4" x2="743.5" y2="2410.1" stroke="#0000F2" stroke-width="3.4"/>
<path d="M743.5,2370.8 L754.1,2389.0 L732.9,2389.0 Z" fill="#0000F2"/>
<line x1="810.2" y1="2294.1" x2="810.2" y2="2359.7" stroke="#F50000" stroke-width="3.4"/>
<path d="M810.2,2316.2 L820.8,2334.5 L799.6,2334.5 Z" fill="#F50000"/>
<line x1="877.3" y1="2235.0" x2="877.3" y2="2305.0" stroke="#F50000" stroke-width="3.4"/>
<path d="M877.3,2259.9 L887.9,2278.2 L866.7,2278.2 Z" fill="#F50000"/>
<line x1="944.3" y1="2240.8" x2="944.3" y2="2347.7" stroke="#F50000" stroke-width="3.4"/>
<path d="M944.3,2284.3 L954.9,2302.6 L933.7,2302.6 Z" fill="#F50000"/>
<line x1="1011.4" y1="2310.4" x2="1011.4" y2="2401.7" stroke="#F50000" stroke-width="3.4"/>
<path d="M1011.4,2342.5 L1022.0,2360.8 L1000.8,2360.8 Z" fill="#F50000"/>
<line x1="1079.1" y1="2352.1" x2="1079.1" y2="2399.3" stroke="#0000F2" stroke-width="3.4"/>
<path d="M1079.1,2367.0 L1089.7,2385.3 L1068.5,2385.3 Z" fill="#0000F2"/>
<line x1="1145.7" y1="2372.4" x2="1145.7" y2="2411.1" stroke="#0000F2" stroke-width="3.4"/>
<path d="M1145.7,2382.0 L1156.3,2400.3 L1135.1,2400.3 Z" fill="#0000F2"/>
<line x1="1213.0" y1="2338.7" x2="1213.0" y2="2381.4" stroke="#0000F2" stroke-width="3.4"/>
<path d="M1213.0,2348.9 L1223.6,2367.2 L1202.4,2367.2 Z" fill="#0000F2"/>
<line x1="1279.5" y1="2353.9" x2="1279.5" y2="2386.5" stroke="#0000F2" stroke-width="3.4"/>
<path d="M1279.5,2359.8 L1290.1,2378.0 L1268.9,2378.0 Z" fill="#0000F2"/>
<line x1="1346.8" y1="2355.0" x2="1346.8" y2="2388.7" stroke="#0000F2" stroke-width="3.4"/>
<path d="M1346.8,2358.8 L1357.4,2377.1 L1336.2,2377.1 Z" fill="#0000F2"/>
<text x="1427.4" y="2047.5" font-size="22.4" textLength="53.2" stroke="#000" stroke-width="0.3" fill="#000">color</text>
<line x1="1451.4" y1="2064.2" x2="1451.4" y2="2102.8" stroke="#BEBEBE" stroke-width="3.5"/>
<circle cx="1451.4" cy="2083.6" r="9.6" fill="#BEBEBE"/>
<text x="1486.6" y="2089.0" font-size="16" font-weight="bold" fill="#000">Cancer</text>
<line x1="1451.4" y1="2111.3" x2="1451.4" y2="2149.9" stroke="#000000" stroke-width="3.5"/>
<circle cx="1451.4" cy="2130.7" r="9.6" fill="#000000"/>
<text x="1486.6" y="2136.1" font-size="16" font-weight="bold" fill="#000">Healthy</text>
<line x1="1451.4" y1="2158.3" x2="1451.4" y2="2196.9" stroke="#F50000" stroke-width="3.5"/>
<circle cx="1451.4" cy="2177.7" r="9.6" fill="#F50000"/>
<text x="1486.6" y="2183.1" font-size="16" font-weight="bold" fill="#000">PEI</text>
<line x1="1451.4" y1="2205.4" x2="1451.4" y2="2244.0" stroke="#0000F2" stroke-width="3.5"/>
<circle cx="1451.4" cy="2224.8" r="9.6" fill="#0000F2"/>
<text x="1486.6" y="2230.2" font-size="16" font-weight="bold" fill="#000">USA</text>
<text x="1427.5" y="2326.7" font-size="22.4" textLength="67.6" stroke="#000" stroke-width="0.3" fill="#000">region</text>
<line x1="1451.6" y1="2345.4" x2="1451.6" y2="2382.6" stroke="#000" stroke-width="3.6"/>
<circle cx="1451.6" cy="2363.2" r="7.8" fill="#000"/>
<text x="1486.3" y="2369.5" font-size="16" font-weight="bold" fill="#000">CDS</text>
<line x1="1451.6" y1="2392.2" x2="1451.6" y2="2430.5" stroke="#000" stroke-width="3.6"/>
<path d="M1451.6,2399.2 L1462.0,2417.2 L1441.2,2417.2 Z" fill="#000"/>
<text x="1486.6" y="2416.0" font-size="16" font-weight="bold" fill="#000">genome</text>
</g>
</svg>
</body></html>
